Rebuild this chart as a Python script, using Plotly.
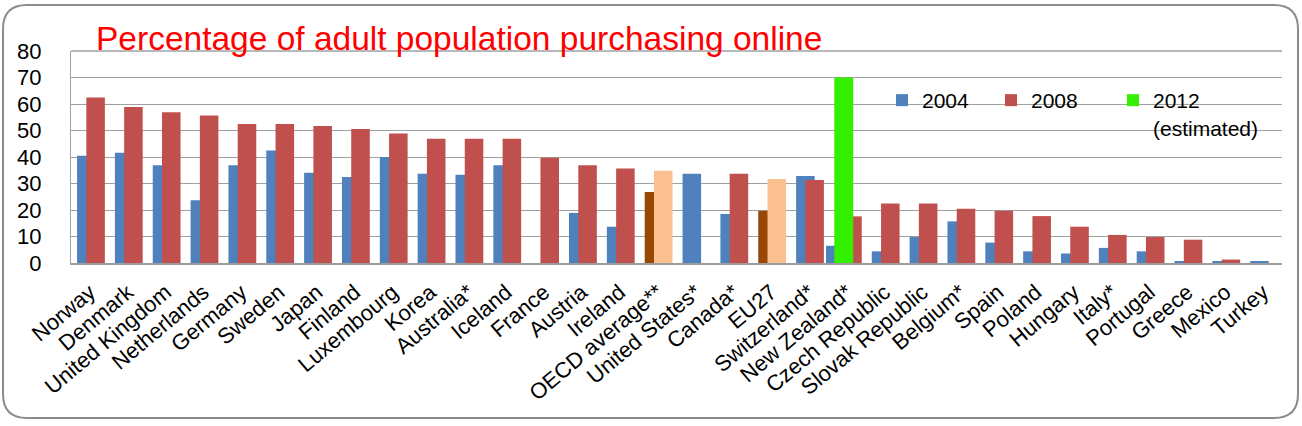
import plotly.graph_objects as go

countries = ["Norway", "Denmark", "United Kingdom", "Netherlands", "Germany", "Sweden",
             "Japan", "Finland", "Luxembourg", "Korea", "Australia*", "Iceland", "France",
             "Austria", "Ireland", "OECD average**", "United States*", "Canada*", "EU27",
             "Switzerland*", "New Zealand*", "Czech Republic", "Slovak Republic", "Belgium*",
             "Spain", "Poland", "Hungary", "Italy*", "Portugal", "Greece", "Mexico", "Turkey"]

v2004 = [40.5, 41.6, 36.9, 23.7, 36.9, 42.5, 34.1, 32.5, 40.0, 33.7, 33.3, 36.9, None,
         18.9, 13.7, 26.8, 33.7, 18.5, 19.7, 32.8, 6.5, 4.4, 9.8, 15.7, 7.7, 4.4, 3.6,
         5.7, 4.4, 0.5, 0.5, 0.6]
v2008 = [62.5, 58.9, 56.9, 55.7, 52.5, 52.5, 51.7, 50.6, 48.9, 46.9, 46.9, 46.9, 39.7,
         36.9, 35.7, 34.8, None, 33.7, 31.7, 31.3, 17.6, 22.5, 22.5, 20.5, 19.7, 17.7,
         13.7, 10.6, 9.8, 8.8, 1.3, None]
v2012_countries = ["New Zealand*"]
v2012 = [70]

highlight = {"OECD average**", "EU27"}
BLUE, RED, GREEN = "#4F81BD", "#C0504D", "#33F000"
BROWN, PEACH = "#974706", "#FAC090"
FONT = "Liberation Sans, Arial, sans-serif"

W, H = 1302, 426
L, R, T, B = 71, 1282, 51, 263

def px(x):
    return (x - L) / (R - L)

def py(y):
    return (B - y) / (B - T)

c2004 = [BROWN if c in highlight else BLUE for c in countries]
c2008 = [PEACH if c in highlight else RED for c in countries]
off2004 = [-0.55 if c == "New Zealand*" else -0.34 for c in countries]

fig = go.Figure()
fig.add_trace(go.Bar(x=countries, y=v2004, name="2004", marker=dict(color=c2004, line=dict(width=0)),
                     width=0.49, offset=off2004, legendwidth=64))
fig.add_trace(go.Bar(x=countries, y=v2008, name="2008", marker=dict(color=c2008, line=dict(width=0)),
                     width=0.49, offset=-0.095, legendwidth=77))
fig.add_trace(go.Bar(x=v2012_countries, y=v2012,
                     name="2012<br>(estimated)",
                     marker=dict(color=GREEN, line=dict(width=0)), width=0.5, offset=-0.33,
                     legendwidth=120))

# rounded frame
x0, y0, x1, y1, r = 3, 5, 1298, 418, 24
path = (f"M {px(x0+r)},{py(y0)} L {px(x1-r)},{py(y0)} Q {px(x1)},{py(y0)} {px(x1)},{py(y0+r)} "
        f"L {px(x1)},{py(y1-r)} Q {px(x1)},{py(y1)} {px(x1-r)},{py(y1)} "
        f"L {px(x0+r)},{py(y1)} Q {px(x0)},{py(y1)} {px(x0)},{py(y1-r)} "
        f"L {px(x0)},{py(y0+r)} Q {px(x0)},{py(y0)} {px(x0+r)},{py(y0)} Z")

fig.update_layout(
    width=W, height=H, autosize=False,
    margin=dict(l=L, r=W - R, t=T, b=H - B),
    paper_bgcolor="white", plot_bgcolor="white",
    barmode="overlay",
    font=dict(family=FONT, color="black"),
    title=dict(text="Percentage of adult population purchasing online",
               font=dict(family=FONT, size=33.5, color="#FF0000"),
               xref="container", yref="container", x=96 / W, xanchor="left",
               y=1 - 38 / H, yanchor="middle"),
    legend=dict(orientation="h", x=px(882), xanchor="left", y=py(80), yanchor="top",
                bgcolor="rgba(0,0,0,0)", font=dict(size=21, family=FONT),
                valign="top", traceorder="normal"),
    xaxis=dict(showgrid=False, tickangle=-40, tickfont=dict(size=22, family=FONT),
               showline=True, linecolor="#9C9C9C", linewidth=1.5, ticks="",
               ticklabelstandoff=6, range=[-0.5, len(countries) - 0.5]),
    yaxis=dict(range=[0, 80], dtick=10, showgrid=True, gridcolor="#A0A0A0", gridwidth=1.4,
               showline=True, linecolor="#A0A0A0", linewidth=1.4, ticks="",
               tickfont=dict(size=22, family=FONT), ticklabelstandoff=24, zeroline=False),
    shapes=[dict(type="path", path=path, xref="paper", yref="paper",
                 line=dict(color="#8C8C8C", width=2), layer="above")],
)
fig.add_shape(type="line", xref="paper", yref="paper", x0=0, x1=1, y0=1, y1=1,
              line=dict(color="#A0A0A0", width=1.4))

fig.write_html("out.html")
